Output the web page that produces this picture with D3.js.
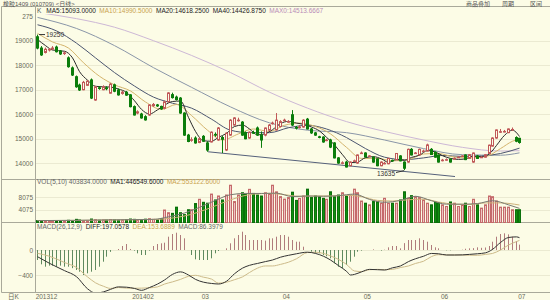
<!DOCTYPE html>
<html>
<head>
<meta charset="utf-8">
<script src="https://cdn.jsdelivr.net/npm/d3@7"></script>
<style>
body { margin: 0; background: #fcfce6; }
svg { display: block; font-family: "Liberation Sans", Arial, "Noto Sans CJK SC", sans-serif; }
</style>
</head>
<body>
<script>
// RU1409 daily bars, Dec 2013 - Jul 2014
const opens = [
  19160,18700,18520,18620,18660,18740,18580,18480,18300,17890,
  17530,17190,17000,17180,17400,16580,17080,17000,17080,16860,
  17200,16990,16850,16900,16790,16310,16050,16010,15900,15970,
  16350,16380,16320,16240,16510,16800,16700,16660,16050,15150,
  14950,15030,14850,15100,14830,14870,15180,14950,15050,14540,
  15150,15560,15760,15680,15250,15030,15250,15440,15150,15150,
  15350,15620,15360,15500,15740,15700,15980,15460,15460,15480,
  15800,15400,15240,15080,15070,14950,14950,14830,14220,14010,
  14050,13900,14080,14010,14400,14420,14280,14250,14180,13900,
  14000,13980,14120,14150,14300,14050,14050,14570,14400,14340,
  14500,14500,14570,14450,14340,14120,14140,14170,14180,14240,
  14290,14340,14200,14050,14300,14240,14250,14400,14700,15030,
  15280,15300,15250,15380,15050,15020];
const highs = [
  19250,18780,18720,18700,18780,18800,18620,18560,18360,17950,
  17580,17250,17360,17400,17460,17160,17150,17180,17140,17280,
  17250,17050,16960,16950,16820,16360,16160,16060,15960,16400,
  16460,16420,16350,16560,16900,16880,16760,16700,16080,15200,
  15060,15100,15050,15150,14900,15300,15260,15480,15120,15260,
  15800,15880,15860,15720,15300,15300,15330,15500,15300,15460,
  15600,15700,16050,15760,15820,15760,16170,15520,15560,15800,
  15850,15440,15280,15120,15100,15000,15000,14860,14250,14080,
  14100,14080,14150,14360,14480,14450,14330,14280,14200,14080,
  14060,14220,14150,14420,14330,14080,14600,14620,14460,14600,
  14560,14800,14620,14480,14360,14180,14200,14200,14240,14280,
  14330,14360,14380,14440,14340,14280,14380,14760,15060,15380,
  15400,15360,15420,15460,15100,15040];
const lows = [
  18650,18380,18480,18560,18620,18520,18420,18420,17900,17560,
  17080,16950,16980,17150,16620,16550,17000,16980,16980,16840,
  16900,16760,16800,16750,16280,15950,16000,15820,15740,15940,
  16300,16300,16180,16200,16480,16640,16560,16020,15120,14860,
  14880,14800,14820,14880,14470,14850,15080,14920,14420,14500,
  15120,15540,15700,15120,14980,15000,15200,15120,14630,15100,
  15330,15580,15340,15460,15700,15650,15520,15380,15420,15450,
  15380,15200,15120,15020,14840,14900,14620,14200,13980,13960,
  13830,13880,14060,13980,14380,14240,14250,14020,13880,13880,
  13960,13960,14060,14130,14080,13720,14020,14320,14380,14320,
  14460,14480,14340,14230,14030,14080,14100,14030,14160,14220,
  14260,14130,14180,14020,14180,14220,14230,14380,14680,15000,
  15240,15260,15230,15340,14860,14800];
const closes = [
  18700,18420,18650,18650,18700,18550,18460,18500,17940,17600,
  17120,16990,17300,17350,16660,17120,17050,17120,17040,17230,
  16940,16790,16900,16780,16310,15970,16100,15850,15770,16380,
  16400,16340,16220,16510,16870,16680,16600,16050,15150,14890,
  14960,14830,15000,14900,14540,15270,15150,15440,14980,15230,
  15760,15850,15760,15150,15000,15270,15240,15150,14950,15440,
  15560,15640,15760,15700,15760,15700,15560,15440,15480,15760,
  15400,15240,15150,15070,14870,14950,14660,14220,14010,14020,
  13850,14050,14100,14340,14420,14260,14300,14050,13900,14050,
  14000,14200,14100,14400,14100,13800,14570,14340,14420,14570,
  14500,14750,14360,14250,14050,14130,14150,14050,14200,14250,
  14300,14150,14350,14420,14200,14250,14350,14740,15030,15360,
  15290,15300,15400,15380,14900,14850];
// volume in thousands of lots
const volumes = [
  60,45,40,35,50,40,45,55,70,60,
  100,80,60,55,110,90,70,80,75,95,
  80,70,75,90,110,100,85,90,105,120,
  100,90,120,395,310,290,486,310,250,404,
  404,600,735,640,611,900,714,840,714,870,
  1180,663,870,942,900,1050,920,870,839,942,
  900,1180,970,820,740,790,960,700,760,840,
  1056,790,839,818,766,735,972,818,870,942,
  839,870,1056,942,680,611,559,663,663,611,
  766,611,611,611,714,972,766,850,818,790,
  714,611,559,663,630,559,507,650,611,507,
  559,611,507,735,559,455,559,839,818,680,
  486,486,486,404,404,404];
const macdHist = [
  -160,-229,-267,-250,-250,-267,-250,-267,-267,-290,
  -320,-347,-400,-373,-347,-320,-267,-187,-107,-30,
  0,16,64,96,16,-10,-53,-80,-80,-10,
  64,96,107,117,213,256,277,240,187,0,
  -80,-149,-160,-160,-160,-133,-53,-16,0,27,
  107,187,240,293,240,160,160,160,160,150,
  187,187,213,240,240,213,160,133,133,53,
  0,-27,-53,-53,-80,-100,-133,-213,-267,-293,
  -240,-187,-107,-27,-10,0,0,10,0,-10,
  5,43,64,64,27,110,160,160,160,187,
  160,133,80,43,27,0,-5,-5,0,0,
  5,20,27,30,43,35,40,64,133,213,
  256,267,250,213,144,86];

// indicator lines, read at sample sessions: [session, value]
const ma5 = [[0,19050],[2,18800],[4,18620],[7,18570],[9,18300],[11,17740],[13,17390],[15,17140],
  [17,17120],[19,17110],[21,17030],[23,16890],[25,16550],[27,16200],[29,16010],[31,16180],
  [33,16370],[35,16520],[37,16540],[39,15870],[41,15300],[43,14920],[45,14900],[47,15060],
  [49,15220],[51,15500],[53,15560],[55,15400],[57,15160],[59,15210],[61,15370],[63,15620],
  [65,15710],[67,15640],[69,15590],[71,15480],[73,15320],[75,15060],[77,14750],[79,14350],
  [81,14030],[83,14050],[85,14230],[87,14270],[89,14180],[91,14040],[93,14150],[95,14120],
  [97,14240],[99,14330],[101,14520],[103,14460],[105,14310],[107,14200],[109,14160],[111,14180],
  [113,14290],[115,14270],[117,14390],[119,14730],[121,15140],[123,15350],[125,15093]];
const ma10 = [[0,19300],[4,18950],[8,18700],[12,18100],[16,17550],[20,17200],[24,16950],[28,16500],
  [32,16200],[36,16400],[40,15950],[44,15350],[48,14950],[52,15200],[56,15400],[60,15300],
  [64,15550],[68,15640],[72,15500],[76,15200],[80,14650],[84,14200],[88,14200],[92,14100],
  [96,14150],[100,14380],[104,14400],[108,14250],[112,14220],[116,14270],[120,14600],[123,14900],[125,14990]];
const ma20 = [[0,19650],[5,19400],[10,18900],[15,18300],[20,17700],[25,17150],[30,16700],[35,16450],
  [40,16250],[45,15800],[50,15350],[55,15250],[60,15250],[65,15450],[70,15550],[75,15400],
  [80,15050],[85,14600],[90,14250],[95,14150],[100,14220],[105,14320],[110,14280],[115,14300],
  [120,14400],[125,14618]];
const ma40 = [[0,19950],[10,19500],[20,18800],[30,17900],[40,17100],[50,16300],[60,15650],[70,15350],
  [80,15250],[90,14950],[100,14600],[110,14350],[120,14330],[125,14427]];
const ma60 = [[0,20150],[10,19900],[20,19550],[30,19000],[40,18400],[50,17700],[60,16900],[70,16250],
  [80,15700],[90,15300],[100,14950],[110,14650],[120,14500],[125,14513]];
const trendLow = [[44,14470],[108,13460]];
const volMa5 = [[0,60],[10,70],[20,85],[30,100],[34,180],[38,300],[42,480],[46,700],[50,880],[54,920],
  [58,920],[62,930],[66,820],[70,840],[74,830],[78,850],[82,900],[86,730],[90,640],[94,700],
  [98,830],[102,690],[106,580],[110,580],[114,600],[118,690],[122,560],[125,447]];
const volMa10 = [[0,60],[10,65],[20,80],[30,95],[36,160],[40,260],[44,430],[48,620],[52,800],[56,900],
  [60,920],[64,880],[68,830],[72,840],[76,840],[80,860],[84,820],[88,700],[92,680],[96,720],
  [100,740],[104,650],[108,580],[112,570],[116,620],[120,620],[125,553]];
const diff = [[0,-107],[3,-213],[7,-330],[10,-427],[13,-620],[15,-690],[17,-670],[19,-630],[21,-590],
  [23,-595],[25,-615],[27,-645],[29,-600],[31,-545],[33,-480],[35,-390],[37,-350],[39,-400],
  [41,-470],[43,-515],[45,-535],[47,-544],[49,-500],[51,-380],[53,-290],[55,-245],[57,-215],
  [59,-185],[61,-160],[63,-115],[65,-85],[67,-60],[70,-35],[72,-55],[74,-100],[76,-160],
  [78,-250],[80,-340],[81,-400],[82,-390],[84,-350],[86,-310],[88,-315],[90,-320],[92,-285],
  [94,-255],[96,-185],[98,-140],[100,-100],[102,-55],[104,-60],[106,-80],[108,-80],[110,-78],
  [112,-70],[114,-60],[116,-45],[118,10],[120,120],[122,200],[124,210],[125,197]];
const dea = [[0,-53],[3,-100],[7,-200],[10,-280],[13,-430],[15,-525],[17,-580],[19,-615],[21,-600],
  [23,-610],[25,-612],[27,-610],[29,-605],[31,-590],[33,-545],[35,-510],[37,-470],[39,-420],
  [41,-405],[43,-435],[45,-465],[47,-530],[49,-515],[51,-475],[53,-430],[55,-360],[57,-290],
  [59,-255],[61,-255],[63,-230],[65,-195],[67,-140],[70,-40],[72,-35],[74,-55],[76,-95],
  [78,-150],[80,-230],[82,-335],[84,-345],[86,-315],[88,-310],[90,-315],[92,-310],[94,-280],
  [96,-255],[98,-215],[100,-180],[102,-105],[104,-75],[106,-78],[108,-80],[110,-80],[112,-83],
  [114,-85],[116,-70],[118,-55],[120,0],[122,80],[124,135],[125,154]];

const priceTicks = [14000, 15000, 16000, 17000, 18000, 19000, 20000];
const volTicks = [807.5, 407.5];
const volTickText = ["8075", "4075"];
const macdTicks = [0, -400];
const xLabels = ["201312", "201402", "03", "04", "05", "06", "07"];
const xLabelIdx = [0, 25, 43, 64, 85, 105, 125];

const W = 550, H = 300;
const N = closes.length;
const bg = "#fcfce6", frame = "#a9a99a", grid = "#ebead2";
const upCol = "#c05858", downCol = "#0b7d0b";

const svg = d3.select("body").append("svg")
    .attr("width", W)
    .attr("height", H);

svg.append("rect").attr("width", W).attr("height", H).attr("fill", bg);

const x = d3.scaleBand().domain(d3.range(N)).range([36.65, 521.85]).paddingInner(0.3);
const cx = i => Math.round(x(i) + x.bandwidth() / 2);

const y = d3.scaleLinear().domain([14000, 19000]).range([163.3, 40.7]);
const yVol = d3.scaleLinear().domain([0, 807.5]).range([222.5, 197]);
const yMacd = d3.scaleLinear().domain([-400, 0]).range([275, 250]);

// grid lines
const gridG = svg.append("g").attr("stroke", grid).attr("stroke-width", 1);
gridG.selectAll(".gp").data(priceTicks.slice(0, 6)).join("line")
    .attr("x1", 36).attr("x2", W)
    .attr("y1", d => Math.round(y(d)) + 0.5).attr("y2", d => Math.round(y(d)) + 0.5);
gridG.selectAll(".gv").data(volTicks).join("line")
    .attr("x1", 36).attr("x2", W)
    .attr("y1", d => Math.round(yVol(d)) + 0.5).attr("y2", d => Math.round(yVol(d)) + 0.5);
gridG.selectAll(".gm").data(macdTicks).join("line")
    .attr("x1", 36).attr("x2", W)
    .attr("y1", d => Math.round(yMacd(d)) + 0.5).attr("y2", d => Math.round(yMacd(d)) + 0.5);

// frame
const fr = svg.append("g").attr("stroke", frame).attr("stroke-width", 1);
[6.5, 179.5, 222.5, 292.5].forEach(v => fr.append("line").attr("x1", 1.5).attr("x2", W).attr("y1", v).attr("y2", v));
fr.append("line").attr("x1", 35.5).attr("x2", 35.5).attr("y1", 6.5).attr("y2", 292.5);
fr.append("line").attr("x1", 1.5).attr("x2", 1.5).attr("y1", 6.5).attr("y2", 292.5);

// axes
const axisFont = g => g.call(g => g.select(".domain").remove())
    .call(g => g.selectAll("text").attr("fill", "#6a6a5a").attr("font-size", 6.5)
        .attr("font-family", "Liberation Sans, Arial, sans-serif"));
svg.append("g").attr("transform", "translate(34,0)")
    .call(d3.axisLeft(y).tickValues(priceTicks).tickSize(0).tickPadding(1)
        .tickFormat(d => d === 20000 ? "275" : d))
    .call(axisFont);
svg.append("g").attr("transform", "translate(34,0)")
    .call(d3.axisLeft(yVol).tickValues(volTicks).tickSize(0).tickPadding(1)
        .tickFormat((d, i) => volTickText[i]))
    .call(axisFont);
svg.append("g").attr("transform", "translate(34,0)")
    .call(d3.axisLeft(yMacd).tickValues(macdTicks).tickSize(0).tickPadding(1))
    .call(axisFont);

svg.selectAll(".xl").data(xLabels).join("text")
    .attr("x", (d, i) => x(xLabelIdx[i]) - 1)
    .attr("y", 298.5)
    .attr("font-size", 6.5)
    .attr("fill", "#6a6a5a")
    .text(d => d);
svg.append("text").attr("x", 8).attr("y", 298.5).attr("font-size", 6.5)
    .attr("fill", "#6a6a5a").text("日K");

// clip for the price panel
svg.append("clipPath").attr("id", "clipMain")
    .append("rect").attr("x", 36).attr("y", 14).attr("width", W - 36).attr("height", 165);
svg.append("clipPath").attr("id", "clipMacd")
    .append("rect").attr("x", 36).attr("y", 223).attr("width", W - 36).attr("height", 69);

const lineOf = ys => d3.line().x(d => cx(d[0]) - 0.5).y(d => ys(d[1])).curve(d3.curveMonotoneX);

// price moving averages and trend line
const mainG = svg.append("g").attr("clip-path", "url(#clipMain)").attr("fill", "none");
[[ma60, "#cdb8d6"], [ma40, "#8a96a8"], [ma20, "#4c5670"], [ma10, "#d4b46c"], [ma5, "#2a2a2a"]]
    .forEach(([data, col]) => {
        mainG.append("path").datum(data).attr("d", lineOf(y))
            .attr("stroke", col).attr("stroke-width", 1);
    });
mainG.append("line")
    .attr("x1", cx(trendLow[0][0])).attr("y1", y(trendLow[0][1]))
    .attr("x2", cx(trendLow[1][0])).attr("y2", y(trendLow[1][1]))
    .attr("stroke", "#55607a").attr("stroke-width", 1);

// candles
const idx = d3.range(N);
const up = i => closes[i] >= opens[i];
const candle = svg.append("g").selectAll("g").data(idx).join("g");
candle.append("line")
    .attr("x1", i => cx(i) - 0.5).attr("x2", i => cx(i) - 0.5)
    .attr("y1", i => y(highs[i])).attr("y2", i => y(lows[i]))
    .attr("stroke", i => up(i) ? upCol : downCol);
candle.append("rect")
    .attr("x", i => cx(i) - 1.5)
    .attr("width", 2)
    .attr("y", i => y(Math.max(opens[i], closes[i])))
    .attr("height", i => Math.max(0.6, Math.abs(y(opens[i]) - y(closes[i]))))
    .attr("fill", i => up(i) ? bg : downCol)
    .attr("stroke", i => up(i) ? upCol : downCol)
    .attr("stroke-width", 1);

// extreme labels
const labG = svg.append("g").attr("font-size", 6.5).attr("fill", "#333");
labG.append("line").attr("x1", cx(0) + 1).attr("x2", 45).attr("y1", y(highs[0])).attr("y2", y(highs[0]))
    .attr("stroke", "#333");
labG.append("text").attr("x", 46).attr("y", y(highs[0]) + 2.3).text("19250");
const lowI = 95;
labG.append("line").attr("x1", 396).attr("y1", 172.5).attr("x2", cx(lowI) - 1).attr("y2", y(lows[lowI]) + 0.5)
    .attr("stroke", "#333");
labG.append("text").attr("x", 377).attr("y", 175.5).text("13635");

// volume
svg.append("g").selectAll("rect").data(idx).join("rect")
    .attr("x", i => cx(i) - 1.5)
    .attr("width", 2)
    .attr("y", i => yVol(volumes[i]))
    .attr("height", i => yVol(0) - yVol(volumes[i]))
    .attr("fill", i => up(i) ? "#f0c4c4" : "#109010")
    .attr("stroke", i => up(i) ? "#c46a6a" : "#0b700b")
    .attr("stroke-width", 1);
const volG = svg.append("g").attr("fill", "none");
volG.append("path").datum(volMa10).attr("d", lineOf(yVol)).attr("stroke", "#cdb27a");
volG.append("path").datum(volMa5).attr("d", lineOf(yVol)).attr("stroke", "#7a7a70");

// MACD
svg.append("g").selectAll("line").data(idx).join("line")
    .attr("x1", i => cx(i) - 0.5).attr("x2", i => cx(i) - 0.5)
    .attr("y1", yMacd(0)).attr("y2", i => yMacd(macdHist[i]))
    .attr("stroke", i => macdHist[i] >= 0 ? "#b07c7c" : "#5f8a5f")
    .attr("stroke-width", 1);
const macdG = svg.append("g").attr("clip-path", "url(#clipMacd)").attr("fill", "none");
macdG.append("path").datum(dea).attr("d", lineOf(yMacd)).attr("stroke", "#cdbb8a");
macdG.append("path").datum(diff).attr("d", lineOf(yMacd)).attr("stroke", "#333");

// header and legends
const txt = (xp, yp, s, col, size) => svg.append("text").attr("x", xp).attr("y", yp)
    .attr("font-size", size || 6.5).attr("fill", col).text(s);
txt(3, 5.5, "橡胶1409 (010709) <日线>", "#555", 6);
txt(466, 5.5, "商品叠加", "#555", 6);
txt(502, 5.5, "周期", "#555", 6);
txt(530, 5.5, "区间", "#555", 6);

const legend = (yp, items) => {
    let xp = 37;
    items.forEach(([s, col, gap]) => {
        const t = txt(xp, yp, s, col);
        xp += t.node().getComputedTextLength() + (gap || 3.5);
    });
};
legend(12.5, [["K", "#555", 5], ["MA5:15093.0000", "#222"], ["MA10:14990.5000", "#c9a24e"],
    ["MA20:14618.2500", "#222"], ["MA40:14426.8750", "#222"], ["MAX0:14513.6667", "#b88cb8"]]);
legend(184, [["VOL(5,10) 403834.0000", "#666"], ["MA1:446549.6000", "#222"], ["MA2:553122.6000", "#c9a24e"]]);
legend(229, [["MACD(26,12,9)", "#666"], ["DIFF:197.0578", "#222"], ["DEA:153.6889", "#c9a24e"],
    ["MACD:86.3979", "#666"]]);
</script>
</body>
</html>
